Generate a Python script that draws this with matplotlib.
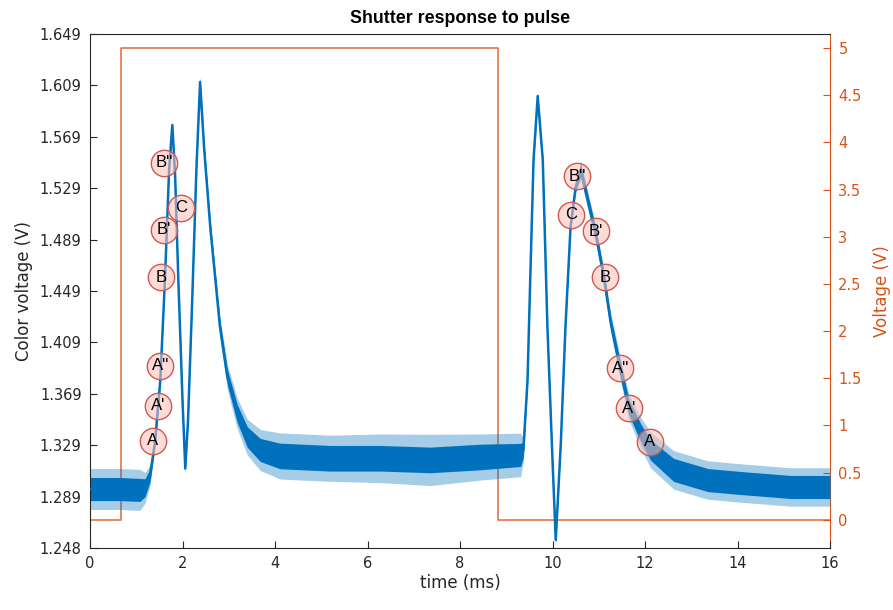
import matplotlib
matplotlib.use("Agg")
import matplotlib.pyplot as plt
import numpy as np

plt.rcParams['font.family'] = ['DejaVu Sans']

# ---- data ----
time_ms = [0.00, 0.65, 1.08, 1.19, 1.30, 1.41, 1.52, 1.62, 1.71, 1.78,
           1.84, 1.91, 2.00, 2.06, 2.12, 2.21, 2.30, 2.38, 2.47, 2.60,
           2.81, 2.97, 3.18, 3.40, 3.68, 4.11, 5.20, 6.28, 7.36, 8.44,
           9.31, 9.37, 9.46, 9.53, 9.59, 9.68, 9.79, 9.89, 10.00, 10.07,
           10.18, 10.28, 10.39, 10.50, 10.61, 10.76, 10.93, 11.11, 11.26, 11.47,
           11.65, 11.91, 12.12, 12.62, 13.36, 14.07, 15.15, 16.00]
color_v = [1.2940, 1.2940, 1.2933, 1.2950, 1.3050, 1.3320, 1.3790, 1.4570, 1.5430, 1.5780,
           1.5390, 1.4570, 1.3635, 1.3100, 1.3480, 1.4415, 1.5430, 1.6116, 1.5585, 1.4984,
           1.4204, 1.3814, 1.3533, 1.3346, 1.3245, 1.3198, 1.3180, 1.3180, 1.3167, 1.3190,
           1.3206, 1.3245, 1.3790, 1.4727, 1.5507, 1.6006, 1.5507, 1.4204, 1.3167, 1.2542,
           1.3299, 1.4204, 1.4984, 1.5296, 1.5429, 1.5195, 1.4937, 1.4594, 1.4235, 1.3869,
           1.3580, 1.3377, 1.3245, 1.3089, 1.3010, 1.2987, 1.2956, 1.2956]
noise_core = [0.009, 0.009, 0.009, 0.007, 0.005, 0.003, 0.002, 0.002, 0.002, 0.002,
              0.002, 0.002, 0.002, 0.002, 0.002, 0.002, 0.002, 0.003, 0.004, 0.004,
              0.005, 0.006, 0.007, 0.008, 0.009, 0.010, 0.010, 0.010, 0.010, 0.010,
              0.009, 0.006, 0.002, 0.002, 0.002, 0.002, 0.002, 0.002, 0.002, 0.002,
              0.002, 0.002, 0.002, 0.003, 0.005, 0.005, 0.005, 0.005, 0.005, 0.006,
              0.006, 0.007, 0.008, 0.009, 0.009, 0.009, 0.009, 0.009]
noise_spike = [0.016, 0.016, 0.016, 0.012, 0.008, 0.004, 0.003, 0.003, 0.003, 0.003,
               0.003, 0.003, 0.003, 0.003, 0.003, 0.003, 0.003, 0.004, 0.006, 0.006,
               0.008, 0.010, 0.012, 0.014, 0.016, 0.018, 0.018, 0.019, 0.020, 0.018,
               0.017, 0.009, 0.003, 0.003, 0.003, 0.003, 0.003, 0.003, 0.003, 0.003,
               0.003, 0.003, 0.003, 0.005, 0.007, 0.007, 0.007, 0.007, 0.008, 0.009,
               0.010, 0.012, 0.014, 0.015, 0.015, 0.015, 0.015, 0.015]

pulse_t = [0.0, 0.68, 0.68, 8.83, 8.83, 16.0]
pulse_v = [0.0, 0.0, 5.0, 5.0, 0.0, 0.0]

marker_labels = ["B''", "C", "B'", "B", "A''", "A'", "A",
                 "B''", "C", "B'", "B", "A''", "A'", "A"]
marker_t = [1.60, 1.975, 1.60, 1.54, 1.52, 1.47, 1.36,
            10.54, 10.41, 10.93, 11.13, 11.47, 11.65, 12.10]
marker_v = [1.5484, 1.5133, 1.4961, 1.4594, 1.3900, 1.3588, 1.3315,
            1.5382, 1.5078, 1.4953, 1.4594, 1.3884, 1.3572, 1.3307]

left_ticklabels = ['1.248', '1.289', '1.329', '1.369', '1.409', '1.449',
                   '1.489', '1.529', '1.569', '1.609', '1.649']
right_ticks = [0, 0.5, 1, 1.5, 2, 2.5, 3, 3.5, 4, 4.5, 5]
right_ticklabels = ['0', '0.5', '1', '1.5', '2', '2.5', '3', '3.5', '4', '4.5', '5']
x_ticks = [0, 2, 4, 6, 8, 10, 12, 14, 16]

# ---- styling ----
BLUE = '#0072BD'
ORANGE = '#D95319'
DARK = '#262626'

fig = plt.figure(figsize=(8.93, 6.10), dpi=100)
ax = fig.add_axes([90/893, 1-548/610, (830-90)/893, (548-34)/610])
ax2 = ax.twinx()

# left axis: blue signal
t = np.array(time_ms)
v = np.array(color_v)
c = np.array(noise_core)
s = np.array(noise_spike)
ax.fill_between(t, v - s, v + s, color=BLUE, alpha=0.35, lw=0, zorder=2)
ax.fill_between(t, v - c, v + c, color=BLUE, lw=0, zorder=2)
ax.plot(t, v, color=BLUE, lw=1.8, zorder=3)

ax.set_xlim(0, 16)
ax.set_ylim(1.248, 1.649)
ax.set_xticks(x_ticks)
ax.set_xticklabels([str(x) for x in x_ticks])
ax.set_yticks(np.linspace(1.248, 1.649, len(left_ticklabels)))
ax.set_yticklabels(left_ticklabels)
ax.tick_params(axis='both', direction='in', length=5, width=0.8,
               colors=DARK, labelsize=10.5)
ax.tick_params(axis='x', pad=6)
ax.tick_params(axis='y', pad=6)
ax.set_xlabel('time (ms)', fontsize=12, color=DARK, labelpad=2)
ax.set_ylabel('Color voltage (V)', fontsize=12, color=DARK, labelpad=5)
ax.set_title('Shutter response to pulse', fontsize=12.8, fontweight='bold',
             color='black', pad=8, family=['Liberation Sans', 'DejaVu Sans'])

# right axis: pulse
ax2.plot(pulse_t, pulse_v, color=ORANGE, lw=1.2, alpha=0.8, zorder=1)
ax2.set_ylim(-0.30, 5.15)
ax2.set_yticks(right_ticks)
ax2.set_yticklabels(right_ticklabels)
ax2.tick_params(axis='y', which='both', direction='in', length=5, width=0.8,
                colors=ORANGE, labelsize=10.5, pad=6)
ax2.set_ylabel('Voltage (V)', fontsize=12, color=ORANGE, labelpad=8)

# put the signal above the pulse
ax.set_zorder(ax2.get_zorder() + 1)
ax.patch.set_visible(False)

for sp in ['left', 'bottom', 'top']:
    ax.spines[sp].set_color(DARK)
    ax.spines[sp].set_linewidth(0.8)
ax.spines['right'].set_visible(False)
ax2.spines['right'].set_color(ORANGE)
ax2.spines['right'].set_linewidth(0.8)
for sp in ['left', 'bottom', 'top']:
    ax2.spines[sp].set_visible(False)

# markers with labels
ax.scatter(marker_t, marker_v, s=360, facecolor=(1.0, 0.75, 0.72, 0.55),
           edgecolor='#cc5a52', linewidth=1.0, zorder=5)
for lab, mt, mv in zip(marker_labels, marker_t, marker_v):
    ax.text(mt, mv, lab, ha='center', va='center', fontsize=12,
            color='black', zorder=6, family=['Liberation Sans', 'DejaVu Sans'])

fig.savefig('out.png', dpi=100)
